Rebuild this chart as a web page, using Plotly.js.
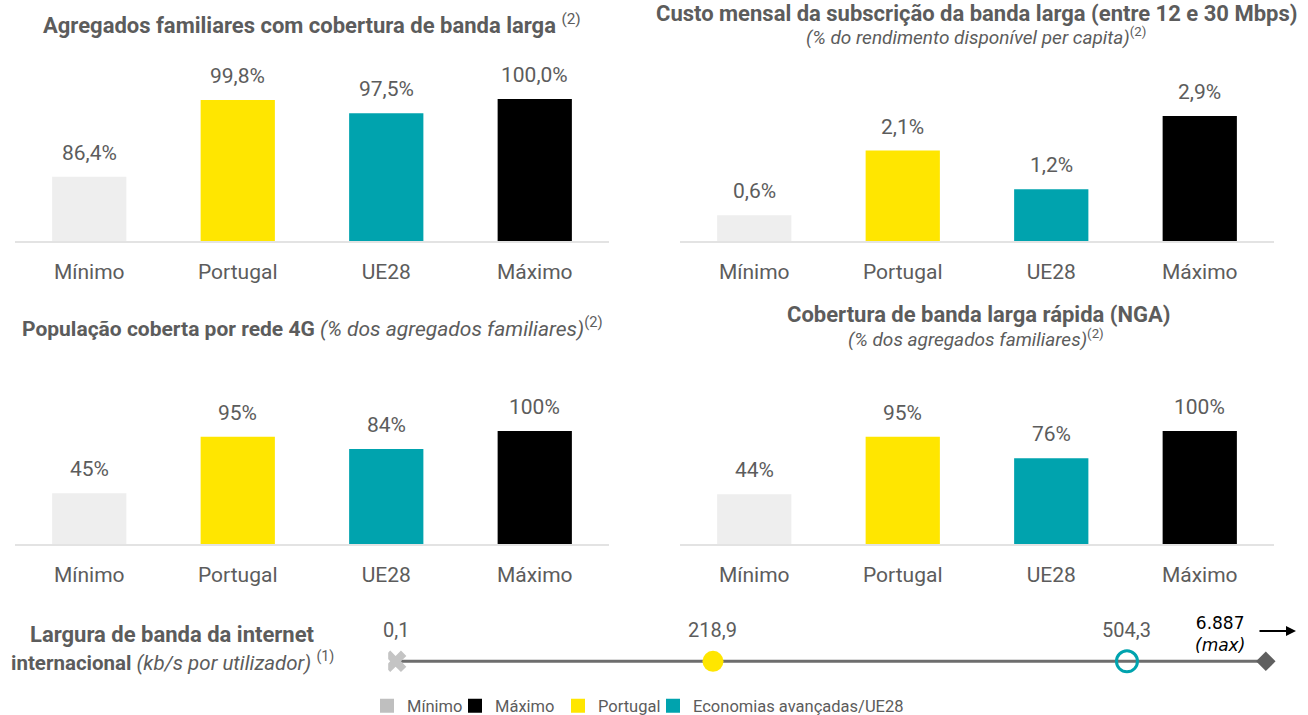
<!DOCTYPE html>
<html><head><meta charset="utf-8">
<script src="https://cdn.plot.ly/plotly-3.0.1.min.js"></script>
<style>html,body{margin:0;padding:0;background:#fff}#chart{width:1308px;height:715px}</style>
</head><body><div id="chart"></div>
<script>
// ---- data ----
const categories = ['Mínimo', 'Portugal', 'UE28', 'Máximo'];
const householdsBroadband = [86.4, 99.8, 97.5, 100.0];   // %
const broadbandCost = [0.6, 2.1, 1.2, 2.9];               // % of disposable income
const coverage4G = [45, 95, 84, 100];                     // %
const coverageNGA = [44, 95, 76, 100];                    // %
const bandwidthSeries = ['Mínimo', 'Portugal', 'UE28', 'Máximo'];
const bandwidthValues = [0.1, 218.9, 504.3, 6887];        // kb/s per user
const legendNames = ['Mínimo', 'Máximo', 'Portugal', 'Economias avançadas/UE28'];

// ---- styles ----
const W = 1308, H = 715;
const px = x => x / W;
const py = y => (H - y) / H;
const GREY = '#5c5c5c';
const FONT = 'Roboto, "Open Sans", sans-serif';
const barColors = ['#eeeeee', '#ffe600', '#00a3ae', '#000000'];
const legendColors = ['#bfbfbf', '#000000', '#ffe600', '#00a3ae'];
const legendLeft = [367, 455, 558, 653];   // legend entry positions (px)
const bandwidthCap = 600; // broken axis: the maximum is drawn at the end of the line

const fmt = (v, d) => v.toFixed(d).replace('.', ',');

const panels = [
  {vals: householdsBroadband, dec: 1, ax: '', dx: [15, 609], dy: [60, 241], range: [75.2, 106.8]},
  {vals: broadbandCost,       dec: 1, ax: '2', dx: [680, 1274], dy: [60, 241], range: [0, 4.2]},
  {vals: coverage4G,          dec: 0, ax: '3', dx: [15, 609], dy: [370, 544], range: [0, 154]},
  {vals: coverageNGA,         dec: 0, ax: '4', dx: [680, 1274], dy: [370, 544], range: [0, 154]}
];

const data = [];
const annotations = [];
const layout = {
  width: W, height: H,
  margin: {l: 0, r: 0, t: 0, b: 0, autoexpand: false},
  paper_bgcolor: '#fff', plot_bgcolor: '#fff',
  font: {family: FONT, color: GREY},
  bargap: 0.5,
  showlegend: true,
  hovermode: false
};

panels.forEach(p => {
  const xa = 'x' + p.ax, ya = 'y' + p.ax;
  data.push({type: 'bar', x: categories, y: p.vals, xaxis: xa, yaxis: ya,
             marker: {color: barColors}, showlegend: false, hoverinfo: 'skip'});
  layout['xaxis' + p.ax] = {domain: [px(p.dx[0]), px(p.dx[1])], anchor: ya,
    showline: true, linecolor: '#e3e3e3', linewidth: 2, showgrid: false, zeroline: false,
    ticks: 'outside', ticklen: 11, tickcolor: 'rgba(0,0,0,0)',
    tickfont: {size: 21, color: GREY, family: FONT}, fixedrange: true};
  layout['yaxis' + p.ax] = {domain: [py(p.dy[1]), py(p.dy[0])], anchor: xa, range: p.range,
    visible: false, showgrid: false, zeroline: false, fixedrange: true};
  categories.forEach((c, i) => {
    annotations.push({xref: xa, yref: ya, x: c, y: p.vals[i], text: fmt(p.vals[i], p.dec) + '%',
      showarrow: false, yanchor: 'middle', yshift: 24, font: {size: 21, color: GREY, family: FONT}});
  });
});

// ---- bandwidth line ----
const shown = bandwidthValues.map(v => Math.min(v, bandwidthCap));
data.push({type: 'scatter', mode: 'lines', x: shown, y: shown.map(() => 0), xaxis: 'x5', yaxis: 'y5',
           line: {color: '#6d6d6d', width: 3}, showlegend: false, hoverinfo: 'skip'});
const bwMarkers = [
  {symbol: 'x', size: 19, color: '#c4c4c4', line: {width: 0}},
  {symbol: 'circle', size: 21, color: '#ffe600', line: {width: 0}},
  {symbol: 'circle-open', size: 21, color: '#00a3ae', line: {width: 3, color: '#00a3ae'}},
  {symbol: 'diamond', size: 15, color: '#5f5f5f', line: {width: 0}}
];
bandwidthSeries.forEach((s, i) => {
  data.push({type: 'scatter', mode: 'markers', x: [shown[i]], y: [0], xaxis: 'x5', yaxis: 'y5',
             marker: bwMarkers[i], showlegend: false, hoverinfo: 'skip', name: s});
  if (i < 3) {
    annotations.push({xref: 'x5', yref: 'y5', x: shown[i], y: 0, text: fmt(bandwidthValues[i], 1),
      showarrow: false, yanchor: 'middle', yshift: 31, font: {size: 20, color: GREY, family: FONT}});
  } else {
    const maxTxt = bandwidthValues[i].toLocaleString('de-DE');
    annotations.push({xref: 'x5', yref: 'y5', x: shown[i], y: 0, xshift: -46, yshift: 27,
      text: maxTxt + '<br><i>(max)</i>', showarrow: false, yanchor: 'middle', align: 'center',
      font: {size: 17, color: '#000', family: '"DejaVu Sans", Verdana, sans-serif'}});
  }
});
layout.xaxis5 = {domain: [px(388.2), px(1280.3)], anchor: 'y5', range: [-5, 610], visible: false, fixedrange: true};
layout.yaxis5 = {domain: [py(693.5), py(629.2)], anchor: 'x5', range: [-1, 1], visible: false, fixedrange: true};
// arrow indicating the maximum is off-scale
annotations.push({xref: 'paper', yref: 'paper', x: px(1296), y: py(631), ax: -38, ay: 0, text: '',
  showarrow: true, arrowhead: 2, arrowsize: 1, arrowwidth: 2, arrowcolor: '#000'});

// ---- legend traces (one legend box per entry) ----
legendNames.forEach((n, i) => {
  const key = i === 0 ? 'legend' : 'legend' + (i + 1);
  data.push({type: 'scatter', mode: 'markers', x: [null], y: [null], xaxis: 'x5', yaxis: 'y5', name: n,
             legend: key, marker: {symbol: 'square', size: 14, color: legendColors[i]}, showlegend: true});
  layout[key] = {orientation: 'h', x: px(legendLeft[i]), y: py(706), xanchor: 'left', yanchor: 'middle',
    font: {size: 16.5, color: GREY, family: FONT}, itemwidth: 30, bgcolor: 'rgba(0,0,0,0)'};
});

// ---- titles ----
const T = (x, y, text, size, extra) => Object.assign({xref: 'paper', yref: 'paper', x: px(x), y: py(y),
  text, showarrow: false, xanchor: 'center', yanchor: 'middle',
  font: {size, color: GREY, family: FONT}}, extra || {});
annotations.push(T(312, 24, '<b>Agregados familiares com cobertura de banda larga</b> <sup>(2)</sup>', 22));
annotations.push(T(976, 14, '<b>Custo mensal da subscrição da banda larga (entre 12 e 30 Mbps)</b>', 22));
annotations.push(T(976, 37, '<i>(% do rendimento disponível per capita)</i><sup>(2)</sup>', 19));
annotations.push(T(312, 327, '<b>População coberta por rede 4G</b> <i>(% dos agregados familiares)</i><sup>(2)</sup>', 21));
annotations.push(T(978, 315, '<b>Cobertura de banda larga rápida (NGA)</b>', 22));
annotations.push(T(976, 338, '<i>(% dos agregados familiares)</i><sup>(2)</sup>', 19));
annotations.push(T(172, 634, '<b>Largura de banda da internet</b>', 22));
annotations.push(T(172, 661, '<b>internacional</b> <i>(kb/s por utilizador)</i> <sup>(1)</sup>', 20.5));

layout.annotations = annotations;
Plotly.newPlot('chart', data, layout, {staticPlot: true, displayModeBar: false});
</script></body></html>
